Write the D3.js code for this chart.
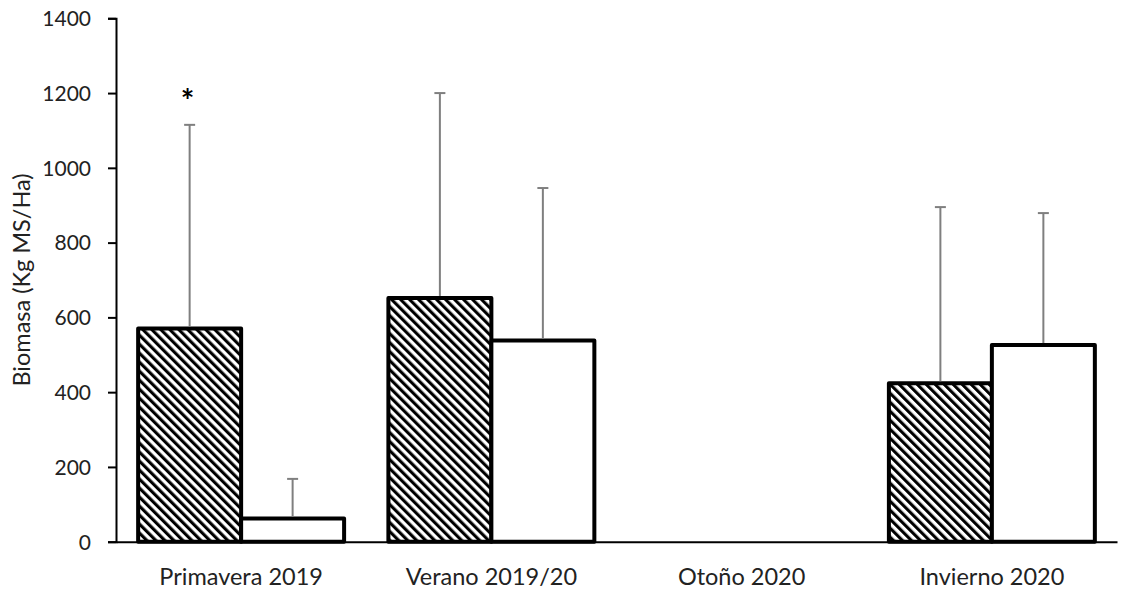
<!DOCTYPE html>
<html>
<head>
<meta charset="utf-8">
<script src="https://cdn.jsdelivr.net/npm/d3@7"></script>
<style>
  html, body { margin: 0; padding: 0; background: #fff; }
  svg { display: block; font-family: Lato, "Open Sans", sans-serif; }
</style>
</head>
<body>
<svg id="chart" width="1121" height="590"></svg>
<script>
// Seasons on the x axis
const seasons = ["Primavera 2019", "Verano 2019/20", "Otoño 2020", "Invierno 2020"];
// Mean biomass (kg MS/ha) for each treatment; null = no data
const hatchedMean = [570, 652, null, 424];
const openMean = [62, 538, null, 526];
// Standard deviation (upper error bar)
const hatchedSD = [545, 548, null, 471];
const openSD = [106, 408, null, 353];
// Significance marks over the hatched bars
const signif = ["*", "", "", ""];
// Y axis ticks
const yTicks = [0, 200, 400, 600, 800, 1000, 1200, 1400];
const yTitle = "Biomasa (Kg MS/Ha)";

const svg = d3.select("#chart");

// Hatch pattern (wide downward diagonal)
const defs = svg.append("defs");
const pat = defs.append("pattern")
  .attr("id", "hatch")
  .attr("patternUnits", "userSpaceOnUse")
  .attr("width", 6.36).attr("height", 10)
  .attr("patternTransform", "rotate(-45)");
pat.append("rect").attr("width", 6.36).attr("height", 10).attr("fill", "#fff");
pat.append("rect").attr("x", 0).attr("width", 3.1).attr("height", 10).attr("fill", "#000");

const x = d3.scaleBand().domain(seasons).range([116, 1117]).paddingInner(0).paddingOuter(0);
const xs = d3.scaleBand().domain(["hatched", "open"]).range([0, x.bandwidth()]).paddingInner(0).paddingOuter(0.215);
const y = d3.scaleLinear().domain([0, 1400]).range([541.7, 18.3]);

const series = [
  { key: "hatched", mean: hatchedMean, sd: hatchedSD, fill: "url(#hatch)" },
  { key: "open", mean: openMean, sd: openSD, fill: "#fff" }
];

// Bars
series.forEach(s => {
  const rows = seasons.map((c, i) => ({ c, v: s.mean[i] })).filter(d => d.v != null);
  svg.append("g").selectAll("rect").data(rows).join("rect")
    .attr("x", d => x(d.c) + xs(s.key))
    .attr("y", d => y(d.v))
    .attr("width", xs.bandwidth())
    .attr("height", d => y(0) - y(d.v))
    .attr("fill", s.fill)
    .attr("stroke", "#000")
    .attr("stroke-width", 4)
    .attr("stroke-linejoin", "round");
});

// Error bars (upper only)
series.forEach(s => {
  const rows = seasons.map((c, i) => ({ c, v: s.mean[i], sd: s.sd[i] })).filter(d => d.v != null);
  const g = svg.append("g").attr("stroke", "#7f7f7f").attr("stroke-width", 2);
  rows.forEach(d => {
    const cx = x(d.c) + xs(s.key) + xs.bandwidth() / 2;
    g.append("line").attr("x1", cx).attr("x2", cx).attr("y1", y(d.v) - 2).attr("y2", y(d.v + d.sd));
    g.append("line").attr("x1", cx - 5.5).attr("x2", cx + 5.5).attr("y1", y(d.v + d.sd)).attr("y2", y(d.v + d.sd));
  });
});

// Significance marks
svg.append("g").selectAll("text").data(seasons.map((c, i) => ({ c, t: signif[i], v: hatchedMean[i], sd: hatchedSD[i] })).filter(d => d.t))
  .join("text")
  .attr("x", d => x(d.c) + xs("hatched") + xs.bandwidth() / 2 - 2)
  .attr("y", d => y(d.v + d.sd) - 12)
  .attr("text-anchor", "middle")
  .attr("font-size", 32)
  .attr("font-weight", "bold")
  .attr("fill", "#000")
  .text(d => d.t);

// Y axis
const yAxis = svg.append("g")
  .attr("transform", "translate(116,0)")
  .call(d3.axisLeft(y).tickValues(yTicks).tickSize(8).tickPadding(17).tickFormat(d3.format("d")));
yAxis.select(".domain").attr("stroke", "#000").attr("stroke-width", 2);
yAxis.selectAll(".tick line").attr("stroke", "#000").attr("stroke-width", 2);
yAxis.selectAll(".tick text").attr("font-size", 21).attr("fill", "#222").attr("font-family", "Lato, sans-serif").attr("dy", "0.35em");

// X axis
const xAxis = svg.append("g")
  .attr("transform", `translate(0,${y(0)})`)
  .call(d3.axisBottom(x).tickSize(0).tickPadding(27));
xAxis.select(".domain").attr("stroke", "#000").attr("stroke-width", 2);
xAxis.selectAll(".tick text").attr("font-size", 23.5).attr("fill", "#222").attr("font-family", "Lato, sans-serif");

// Y axis title
svg.append("text")
  .attr("transform", `translate(30,${(y(0) + y(1400)) / 2}) rotate(-90)`)
  .attr("text-anchor", "middle")
  .attr("font-size", 23.5)
  .attr("fill", "#222")
  .text(yTitle);
</script>
</body>
</html>
